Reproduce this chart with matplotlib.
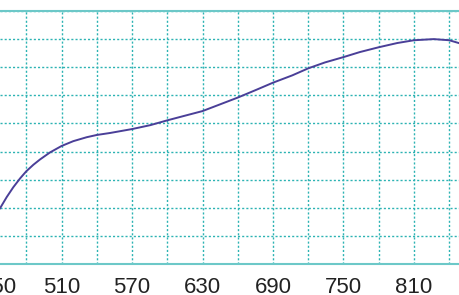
import matplotlib.pyplot as plt
from matplotlib.ticker import MultipleLocator

# values
wavelength = [457.6, 463.3, 468.9, 474.6, 480, 486, 491.7, 500.2, 510.1, 520,
              531.4, 540, 551.2, 570, 585.6, 600, 613.6, 630, 645, 660, 676,
              690, 706.4, 720, 734.2, 750, 764, 780, 795.7, 810, 826.8, 840,
              849]
response = [0.198, 0.238, 0.273, 0.304, 0.330, 0.353, 0.372, 0.397, 0.420,
            0.437, 0.451, 0.459, 0.466, 0.480, 0.494, 0.511, 0.526, 0.544,
            0.568, 0.592, 0.620, 0.645, 0.671, 0.696, 0.717, 0.736, 0.754,
            0.771, 0.786, 0.796, 0.800, 0.796, 0.785]
tick_values = [450, 510, 570, 630, 690, 750, 810, 870]

teal = "#2db3b3"
label_size = 16
label_pad = 9.5

fig = plt.figure(figsize=(4.6, 2.95), dpi=100)
ax = fig.add_axes([0, 31 / 295, 1, 253 / 295])

ax.plot(wavelength, response, color="#4a3f98", linewidth=1.4)

ax.set_xticks(tick_values)
ax.xaxis.set_minor_locator(MultipleLocator(30))
ax.yaxis.set_major_locator(MultipleLocator(0.1))
ax.set_xlim(457.6, 849.2)
ax.set_ylim(0, 0.9)

ax.grid(True, which="both", color=teal, linestyle=(0, (1.5, 1.5)), linewidth=1.0)
ax.set_yticklabels([])
ax.tick_params(axis="both", which="both", length=0)
ax.tick_params(axis="x", labelsize=label_size, labelcolor="#222222", pad=label_pad)
for lbl in ax.get_xticklabels():
    lbl.set_fontfamily("Liberation Sans")

# first label sits left of the visible range, only partly shown
ax.annotate(str(tick_values[0]), xy=(tick_values[0], 0),
            xycoords=("data", "axes fraction"), xytext=(5, -label_pad),
            textcoords="offset points", ha="center", va="top",
            fontsize=label_size, color="#222222", family="Liberation Sans")

for side in ["left", "right"]:
    ax.spines[side].set_visible(False)
for side in ["top", "bottom"]:
    ax.spines[side].set_color("#6cc8c8")
    ax.spines[side].set_linewidth(1.5)

plt.savefig("out.png", dpi=100)
